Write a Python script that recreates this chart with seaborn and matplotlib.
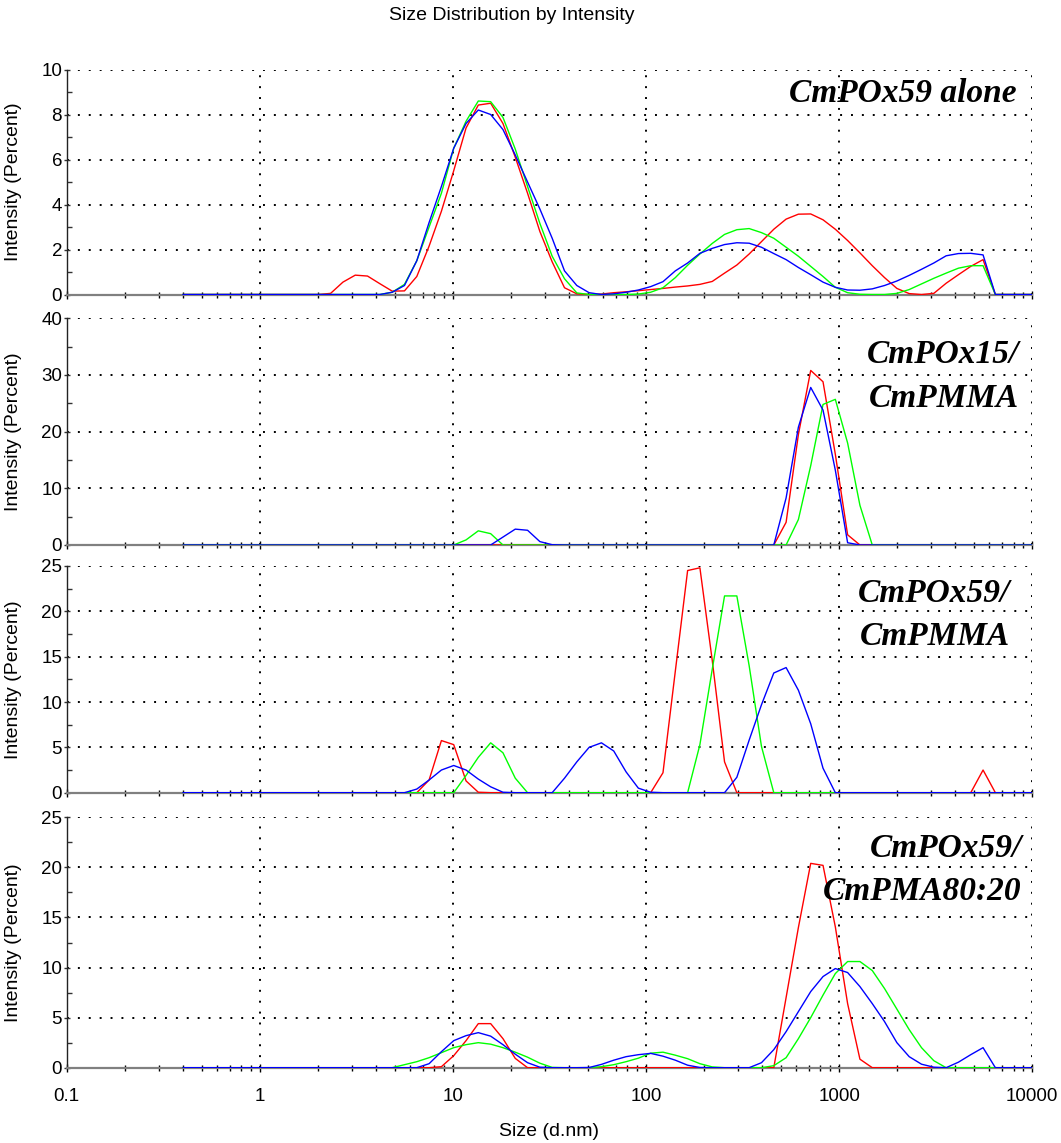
import matplotlib
matplotlib.use("Agg")
import matplotlib.pyplot as plt
import matplotlib.ticker as mticker
import pandas as pd
import seaborn as sns

# ---------------- data ----------------
SIZES = [0.4, 0.4632, 0.5365, 0.6213, 0.7195, 0.8332, 0.9649, 1.117, 1.294, 1.499,
         1.736, 2.01, 2.328, 2.696, 3.122, 3.615, 4.187, 4.849, 5.615, 6.503,
         7.531, 8.721, 10.1, 11.7, 13.54, 15.69, 18.17, 21.04, 24.36, 28.21,
         32.67, 37.84, 43.82, 50.75, 58.77, 68.06, 78.82, 91.28, 105.7, 122.4,
         141.8, 164.2, 190.1, 220.2, 255.0, 295.3, 342.0, 396.1, 458.7, 531.2,
         615.1, 712.4, 825.0, 955.4, 1106, 1281, 1484, 1718, 1990, 2305,
         2669, 3091, 3580, 4145, 4801, 5560, 6439, 7456, 8635, 10000]

RUNS = ["red", "green", "blue"]
RUN_COLORS = {"red": "#ff0000", "green": "#00ff00", "blue": "#0000ff"}

# Panel 1: CmPOx59 alone
P1_RED = [0, 0, 0, 0, 0, 0, 0, 0, 0, 0,
          0, 0, 0.05, 0.55, 0.86, 0.82, 0.48, 0.15, 0.16, 0.8,
          2.15, 3.7, 5.5, 7.4, 8.42, 8.5, 7.6, 6.1, 4.5, 2.8,
          1.45, 0.3, 0.03, 0, 0.02, 0.08, 0.12, 0.17, 0.22, 0.27,
          0.33, 0.38, 0.45, 0.58, 0.95, 1.31, 1.8, 2.35, 2.9, 3.35,
          3.57, 3.58, 3.32, 2.9, 2.4, 1.85, 1.28, 0.75, 0.27, 0.04,
          0, 0.05, 0.5, 0.88, 1.25, 1.55, 0, 0, 0, 0]
P1_GREEN = [0, 0, 0, 0, 0, 0, 0, 0, 0, 0,
            0, 0, 0, 0, 0, 0, 0, 0.1, 0.45, 1.5,
            3.0, 4.5, 6.5, 7.7, 8.6, 8.57, 7.87, 6.46, 4.8, 3.16,
            1.7, 0.7, 0.07, 0, 0, 0, 0, 0.02, 0.1, 0.3,
            0.75, 1.3, 1.8, 2.27, 2.67, 2.88, 2.93, 2.75, 2.5, 2.1,
            1.7, 1.25, 0.8, 0.32, 0.08, 0.01, 0, 0, 0.05, 0.22,
            0.47, 0.72, 0.95, 1.17, 1.28, 1.28, 0, 0, 0, 0]
P1_BLUE = [0, 0, 0, 0, 0, 0, 0, 0, 0, 0,
           0, 0, 0, 0, 0, 0, 0, 0.1, 0.4, 1.5,
           3.2, 4.8, 6.5, 7.6, 8.2, 8.0, 7.33, 6.2, 5.0, 3.8,
           2.5, 1.05, 0.4, 0.08, 0, 0.03, 0.1, 0.2, 0.35, 0.57,
           1.05, 1.4, 1.83, 2.05, 2.22, 2.3, 2.28, 2.1, 1.82, 1.55,
           1.2, 0.88, 0.55, 0.32, 0.2, 0.19, 0.25, 0.4, 0.6, 0.85,
           1.12, 1.4, 1.72, 1.82, 1.83, 1.76, 0, 0, 0, 0]

# Panel 2: CmPOx15/CmPMMA
P2_RED = [0, 0, 0, 0, 0, 0, 0, 0, 0, 0,
          0, 0, 0, 0, 0, 0, 0, 0, 0, 0,
          0, 0, 0, 0, 0, 0, 0, 0, 0, 0,
          0, 0, 0, 0, 0, 0, 0, 0, 0, 0,
          0, 0, 0, 0, 0, 0, 0, 0, 0, 4.0,
          19.5, 30.8, 28.8, 16.0, 1.8, 0, 0, 0, 0, 0,
          0, 0, 0, 0, 0, 0, 0, 0, 0, 0]
P2_GREEN = [0, 0, 0, 0, 0, 0, 0, 0, 0, 0,
            0, 0, 0, 0, 0, 0, 0, 0, 0, 0,
            0, 0, 0, 0.9, 2.5, 2.0, 0, 0, 0, 0,
            0, 0, 0, 0, 0, 0, 0, 0, 0, 0,
            0, 0, 0, 0, 0, 0, 0, 0, 0, 0,
            4.5, 14.0, 24.8, 25.7, 18.0, 7.0, 0, 0, 0, 0,
            0, 0, 0, 0, 0, 0, 0, 0, 0, 0]
P2_BLUE = [0, 0, 0, 0, 0, 0, 0, 0, 0, 0,
           0, 0, 0, 0, 0, 0, 0, 0, 0, 0,
           0, 0, 0, 0, 0, 0, 1.4, 2.8, 2.6, 0.6,
           0.05, 0, 0, 0, 0, 0, 0, 0, 0, 0,
           0, 0, 0, 0, 0, 0, 0, 0, 0, 8.3,
           20.8, 27.8, 23.8, 13.2, 0.4, 0, 0, 0, 0, 0,
           0, 0, 0, 0, 0, 0, 0, 0, 0, 0]

# Panel 3: CmPOx59/CmPMMA
P3_RED = [0, 0, 0, 0, 0, 0, 0, 0, 0, 0,
          0, 0, 0, 0, 0, 0, 0, 0, 0, 0,
          1.4, 5.75, 5.3, 1.3, 0.05, 0, 0, 0, 0, 0,
          0, 0, 0, 0, 0, 0, 0, 0, 0, 2.2,
          13.4, 24.5, 24.8, 14.6, 3.4, 0, 0, 0, 0, 0,
          0, 0, 0, 0, 0, 0, 0, 0, 0, 0,
          0, 0, 0, 0, 0, 2.5, 0, 0, 0, 0]
P3_GREEN = [0, 0, 0, 0, 0, 0, 0, 0, 0, 0,
            0, 0, 0, 0, 0, 0, 0, 0, 0, 0,
            0, 0, 0, 1.9, 3.9, 5.5, 4.4, 1.6, 0, 0,
            0, 0, 0, 0, 0, 0, 0, 0, 0, 0,
            0, 0, 5.3, 13.6, 21.7, 21.7, 14.0, 5.1, 0, 0,
            0, 0, 0, 0, 0, 0, 0, 0, 0, 0,
            0, 0, 0, 0, 0, 0, 0, 0, 0, 0]
P3_BLUE = [0, 0, 0, 0, 0, 0, 0, 0, 0, 0,
           0, 0, 0, 0, 0, 0, 0, 0, 0, 0.4,
           1.4, 2.5, 3.0, 2.5, 1.5, 0.65, 0.05, 0, 0, 0,
           0, 1.6, 3.4, 5.0, 5.5, 4.6, 2.3, 0.5, 0.05, 0,
           0, 0, 0, 0, 0, 1.7, 5.8, 9.7, 13.2, 13.8,
           11.3, 7.6, 2.7, 0, 0, 0, 0, 0, 0, 0,
           0, 0, 0, 0, 0, 0, 0, 0, 0, 0]

# Panel 4: CmPOx59/CmPMA80:20
P4_RED = [0, 0, 0, 0, 0, 0, 0, 0, 0, 0,
          0, 0, 0, 0, 0, 0, 0, 0, 0, 0,
          0, 0.1, 1.2, 2.7, 4.4, 4.4, 2.9, 0.93, 0, 0,
          0, 0, 0, 0, 0, 0, 0, 0, 0, 0,
          0, 0, 0, 0, 0, 0, 0, 0, 0, 7.0,
          14.0, 20.4, 20.2, 14.06, 6.4, 0.85, 0, 0, 0, 0,
          0, 0, 0, 0, 0, 0, 0, 0, 0, 0]
P4_GREEN = [0, 0, 0, 0, 0, 0, 0, 0, 0, 0,
            0, 0, 0, 0, 0, 0, 0, 0, 0.3, 0.6,
            1.0, 1.5, 2.0, 2.3, 2.5, 2.35, 2.0, 1.55, 1.05, 0.45,
            0.03, 0, 0, 0, 0.1, 0.3, 0.6, 0.95, 1.45, 1.55,
            1.25, 0.9, 0.4, 0.08, 0, 0, 0, 0, 0.2, 1.0,
            2.9, 5.0, 7.25, 9.4, 10.6, 10.6, 9.7, 7.9, 5.85, 3.8,
            2.0, 0.7, 0, 0, 0, 0, 0, 0, 0, 0]
P4_BLUE = [0, 0, 0, 0, 0, 0, 0, 0, 0, 0,
           0, 0, 0, 0, 0, 0, 0, 0, 0, 0,
           0.4, 1.6, 2.7, 3.2, 3.5, 3.15, 2.3, 1.35, 0.5, 0.05,
           0, 0, 0, 0.02, 0.33, 0.75, 1.1, 1.3, 1.43, 1.15,
           0.75, 0.25, 0.02, 0, 0, 0, 0, 0.5, 1.8, 3.6,
           5.6, 7.6, 9.1, 9.9, 9.5, 8.1, 6.4, 4.6, 2.5, 1.1,
           0.35, 0.05, 0, 0.55, 1.3, 2.0, 0, 0, 0, 0]

PANEL_SERIES = [
    (P1_RED, P1_GREEN, P1_BLUE),
    (P2_RED, P2_GREEN, P2_BLUE),
    (P3_RED, P3_GREEN, P3_BLUE),
    (P4_RED, P4_GREEN, P4_BLUE),
]
PANEL_LABELS = [["CmPOx59 alone"], ["CmPOx15/", "CmPMMA"],
                ["CmPOx59/", "CmPMMA"], ["CmPOx59/", "CmPMA80:20"]]
Y_MAX = [10, 40, 25, 25]
Y_MAJOR = [2, 10, 5, 5]
Y_MINOR = [1, 5, 2.5, 2.5]
XTICKS = [0.1, 1, 10, 100, 1000, 10000]
XTICK_LABELS = ["0.1", "1", "10", "100", "1000", "10000"]
TITLE = "Size Distribution by Intensity"
XLABEL = "Size (d.nm)"
YLABEL = "Intensity (Percent)"

# ---------------- layout / style ----------------
sns.set_theme(style="white")
plt.rcParams["font.family"] = ["Liberation Sans", "DejaVu Sans"]
plt.rcParams["text.color"] = "black"
plt.rcParams["axes.labelcolor"] = "black"
plt.rcParams["xtick.labelcolor"] = "black"
plt.rcParams["ytick.labelcolor"] = "black"

W, H = 1061, 1143
fig = plt.figure(figsize=(W / 100, H / 100), dpi=100)

LEFT, RIGHT = 66.6, 1032.3
PANEL_PIX = [(69.5, 294.5), (318.3, 545.0), (566.0, 792.7), (817.3, 1067.7)]
LABEL_X = [0.984, 0.986, 0.977, 0.989]
LABEL_Y = [[0.856], [0.803, 0.609], [0.841, 0.652], [0.841, 0.670]]

grid_kw = dict(color="black", linestyle=(0, (1, 4.6)), linewidth=1.4)

axes = []
for k in range(4):
    top, bot = PANEL_PIX[k]
    ax = fig.add_axes([LEFT / W, 1 - bot / H, (RIGHT - LEFT) / W, (bot - top) / H])
    axes.append(ax)
    red, green, blue = PANEL_SERIES[k]
    df = pd.DataFrame({
        "size": SIZES * 3,
        "intensity": list(red) + list(green) + list(blue),
        "run": [r for r in RUNS for _ in SIZES],
    })
    sns.lineplot(data=df, x="size", y="intensity", hue="run", hue_order=RUNS,
                 palette=RUN_COLORS, estimator=None, sort=False, legend=False,
                 linewidth=1.0, ax=ax, zorder=3)
    ax.set_xscale("log")
    ax.set_xlim(0.1, 10000)
    ax.set_ylim(0, Y_MAX[k])

    ax.set_xticks(XTICKS)
    ax.xaxis.set_minor_locator(mticker.LogLocator(base=10, subs=range(2, 10), numticks=20))
    ax.xaxis.set_minor_formatter(mticker.NullFormatter())
    if k == 3:
        ax.set_xticklabels(XTICK_LABELS)
    else:
        ax.set_xticklabels([])
    ax.yaxis.set_major_locator(mticker.MultipleLocator(Y_MAJOR[k]))
    ax.yaxis.set_minor_locator(mticker.MultipleLocator(Y_MINOR[k]))
    ax.yaxis.set_major_formatter(mticker.FuncFormatter(lambda v, p: f"{v:g}"))

    ax.tick_params(axis="x", which="major", direction="inout", length=6, width=1,
                   color="black", labelcolor="black", labelsize=13.5, pad=11.6, bottom=True)
    ax.tick_params(axis="x", which="minor", direction="inout", length=4, width=1,
                   color="black", bottom=True)
    ax.tick_params(axis="y", which="major", direction="inout", length=5, width=1,
                   color="#333333", labelcolor="black", labelsize=13.5, pad=0.8, left=True)
    ax.tick_params(axis="y", which="minor", direction="in", length=3.5, width=1,
                   color="#333333", left=True)

    ax.set_axisbelow(True)
    ax.grid(True, which="major", axis="both", **grid_kw)
    ax.grid(False, which="minor")

    for s in ("top", "right"):
        ax.spines[s].set_visible(False)
    ax.spines["left"].set_color("#222222")
    ax.spines["left"].set_linewidth(1.0)
    ax.spines["bottom"].set_color("#808080")
    ax.spines["bottom"].set_linewidth(1.6)

    ax.set_xlabel("")
    ax.set_ylabel(YLABEL, fontsize=14, color="black")
    ax.yaxis.set_label_coords(-0.046, 0.5)

    for line, yy in zip(PANEL_LABELS[k], LABEL_Y[k]):
        ax.text(LABEL_X[k], yy, line, transform=ax.transAxes, ha="right",
                va="baseline", fontsize=24, fontweight="bold", fontstyle="italic",
                color="black", family=["Liberation Serif", "DejaVu Serif"], zorder=5)

fig.text(512 / W, 1 - 20 / H, TITLE, ha="center", va="baseline", fontsize=14,
         color="black")
fig.text((LEFT + RIGHT) / 2 / W, 1 - 1136 / H, XLABEL, ha="center",
         va="baseline", fontsize=14, color="black")

fig.savefig("out.png", dpi=100)
